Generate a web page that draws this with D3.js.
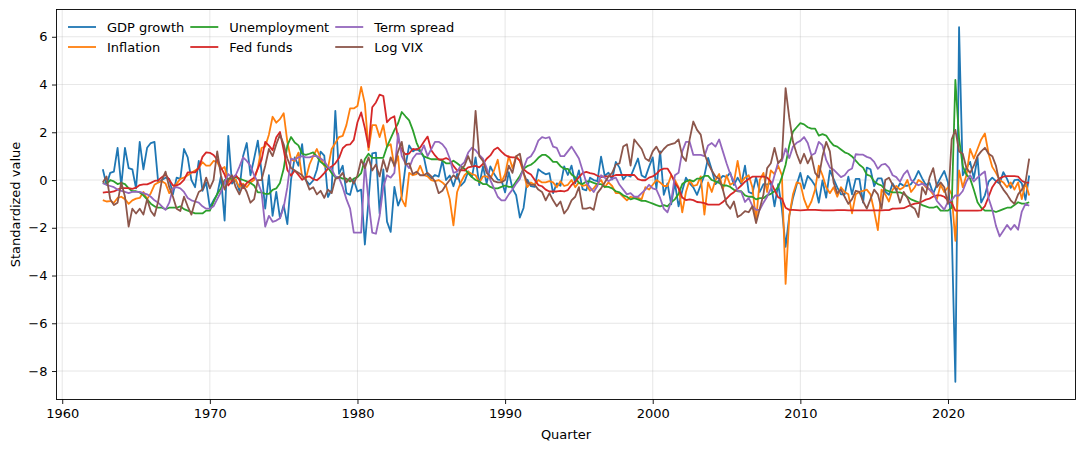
<!DOCTYPE html>
<html>
<head>
<meta charset="utf-8">
<script src="https://cdn.jsdelivr.net/npm/d3@7"></script>
<style>
  body { margin: 0; background: white; }
  svg { display: block; font-family: "DejaVu Sans", sans-serif; }
</style>
</head>
<body>
<div id="chart"></div>
<script>
// Quarterly macro series, standardized, 1962Q3 .. 2025Q2 (one row per year)
const firstQuarter = 1962.75; // date of the 1962Q3 observation

const gdpGrowth = [
  0.45, -0.2,
  0.3, 0.35, 1.35, -0.25,   1.35, 0.5, 0.45, -0.35,   1.6, 0.45, 1.35, 1.55,   1.6, -0.1, 0.0, 0.1,
  0.05, -0.6, 0.1, 0.05,    1.3, 0.95, 0.0, -0.3,     0.8, -0.45, -0.1, -1.15, -0.85, -0.6, 0.15, -1.7,
  1.85, -0.15, 0.02, -0.45, 1.0, 1.55, 0.2, 0.9,      1.65, 0.35, -1.2, 0.2,   -1.5, -0.5, -1.6, -1.05,
  -1.85, 0.02, 0.95, 0.6,   1.5, 0.0, -0.19, -0.02,   0.43, 1.19, 1.02, -0.71, -0.4, 2.9, 0.26, 0.6,
  -0.55, -0.62, 0.0, -0.48, -0.4, -2.7, -0.83, 1.12,  1.15, -1.4, 0.45, -1.74, -2.17, -0.29, -1.07, -0.67,
  0.57, 1.45, 1.2, 1.3,     1.2, 0.95, 0.21, 0.07,    0.21, 0.14, 0.81, 0.0,   0.19, -0.26, 0.26, -0.24,
  -0.07, 0.36, 0.12, 0.95,  -0.21, 0.57, -0.14, 0.57, 0.26, 0.02, 0.0, -0.52, 0.33, -0.36, -0.64, -1.57,
  -1.17, 0.02, -0.26, -0.29, 0.45, 0.33, 0.24, 0.29,  -0.55, -0.14, -0.24, 0.57, 0.21, 0.6, -0.14, 0.4,
  -0.38, -0.43, 0.1, 0.0,   -0.05, 0.98, 0.17, 0.31,  0.02, 0.76, 0.52, 0.02,  0.21, 0.14, 0.52, 0.9,
  0.19, 0.1, 0.55, 0.95,    -0.36, 1.2, -0.62, -0.14, -1.02, -0.12, -1.1, -0.45, 0.1, -0.14, -0.31, -0.62,
  -0.21, 0.19, 0.93, 0.43,  -0.17, 0.0, 0.17, 0.12,   0.31, -0.21, 0.1, -0.17, 0.6, -0.5, -0.57, 0.12,
  -0.5, -0.17, -0.19, -0.12, -1.1, -0.17, -1.21, -2.8, -1.5, -0.75, -0.2, 0.3, -0.36, 0.17, 0.0, -0.24,
  -0.95, -0.02, -0.74, 0.4, 0.05, -0.31, -0.6, -0.6,  0.14, -0.6, 0.05, 0.05,  -0.95, 0.52, 0.45, -0.26,
  0.07, 0.07, -0.48, -0.62, -0.14, -0.43, -0.14, -0.24, -0.24, -0.17, 0.05, 0.38, 0.07, -0.21, -0.12, -0.57,
  -0.19, 0.1, 0.38, -0.1,   -2.0, -8.45, 6.4, 0.2,    0.5, 0.76, 0.07, 0.95,   -0.95, -0.64, -0.07, 0.1,
  -0.05, -0.14, 0.33, 0.05, -0.33, 0.0, 0.02, -0.14,
  -0.83, 0.19
];

const inflation = [
  -0.84, -0.9,
  -0.88, -0.95, -0.75, -0.7, -0.8, -1.0, -0.85, -0.78, -0.75, -0.5, -0.8, -0.55, -0.2, -0.1, -0.05, -0.15,
  -0.55, -0.35, -0.15, 0.05, 0.1, 0.2, 0.3, 0.4,      0.5, 0.75, 0.6, 0.6,     0.8, 0.75, 0.45, 0.55,
  -0.1, 0.1, 0.0, -0.3,     -0.15, -0.3, -0.1, 0.0,   0.5, 1.34, 1.4, 1.9,     2.65, 2.4, 2.55, 2.8,
  1.6, 0.85, 0.8, 1.15,     0.15, 0.05, 0.65, 1.0,    1.3, 0.9, 0.6, 0.5,      1.3, 1.55, 1.8, 1.85,
  2.3, 3.0, 3.0, 3.1,       3.9, 3.2, 1.25, 2.3,      2.3, 1.8, 2.3, 1.4,      1.5, 0.55, 1.0, -0.8,
  -1.1, 0.3, 0.2, 0.25,     0.6, 0.2, 0.15, 0.0,      -0.05, 0.0, -0.1, -0.25, -0.8, -1.9, -0.5, -0.1,
  0.2, 0.35, 0.25, 0.2,     -0.1, 0.15, 0.15, 0.05,   0.4, 0.85, -0.1, 0.25,   1.0, 0.5, 1.0, 0.8,
  0.3, -0.3, -0.1, -0.2,    0.0, -0.1, -0.1, -0.05,   -0.1, -0.3, -0.05, -0.25, -0.2, 0.0, -0.3, -0.1,
  -0.25, -0.2, -0.45, -0.35, -0.15, 0.0, -0.3, -0.1,  -0.25, -0.55, -0.55, -0.7, -0.85, -0.7, -0.75, -0.75,
  -0.8, -0.3, -0.4, -0.2,   0.0, -0.1, -0.25, -0.25,  0.2, 0.0, -0.3, -1.35,   -0.5, 0.0, -0.25, -0.2,
  0.15, -1.45, -0.1, -0.5,  0.0, 0.25, -0.4, 0.2,     -0.2, -0.1, 0.8, -0.1,   0.1, 0.2, -0.3, -1.7,
  0.0, 0.3, -0.5, 0.4,      0.25, 0.6, 0.2, -4.35,    -1.5, -0.6, -0.1, -0.15, -0.8, -1.2, -0.9, -0.4,
  0.6, 0.2, -0.3, -0.55,    -0.3, -0.7, -0.3, -0.5,   -0.6, -1.4, -0.6, -0.5,  -0.45, -0.4, -0.6, -1.3,
  -2.1, -0.4, -0.6, -0.9,   -0.4, -0.25, -0.4, -0.3,  0.0, -0.5, -0.3, 0.0,    -0.1, -0.3, -0.4, -0.6,
  -0.8, -0.2, -0.5, -0.3,   -0.6, -2.55, 0.4, -0.3,   0.2, 1.3, 0.9, 1.3,      1.7, 1.95, 1.1, 0.55,
  0.3, 0.0, -0.1, -0.3,     -0.1, -0.4, -0.1, -0.8,
  -0.1, -0.65
];

const unemployment = [
  -0.12, -0.17,
  0.0, -0.06, -0.17, -0.12, -0.17, -0.35, -0.47, -0.47, -0.52, -0.64, -0.81, -0.99, -1.1, -1.16, -1.16, -1.22,
  -1.16, -1.16, -1.16, -1.1, -1.22, -1.28, -1.34, -1.4, -1.4, -1.4, -1.28, -1.28, -0.93, -0.58, -0.35, 0.0,
  0.06, 0.06, 0.12, 0.06,   0.0, -0.06, -0.12, -0.23, -0.52, -0.52, -0.58, -0.58, -0.41, -0.35, -0.12, 0.47,
  1.45, 1.8, 1.57, 1.45,    1.1, 1.05, 1.1, 1.16,     0.99, 0.76, 0.64, 0.52,  0.29, 0.12, 0.12, 0.06,
  0.06, -0.06, 0.06, 0.12,  0.29, 0.87, 1.1, 0.93,    0.93, 0.93, 0.93, 1.4,   1.74, 2.09, 2.38, 2.85,
  2.67, 2.5, 2.09, 1.57,    1.22, 0.99, 0.93, 0.87,   0.87, 0.87, 0.81, 0.7,   0.7, 0.81, 0.7, 0.58,
  0.47, 0.29, 0.12, 0.0,    -0.06, -0.17, -0.17, -0.29, -0.35, -0.35, -0.29, -0.23, -0.29, -0.29, -0.06, 0.17,
  0.47, 0.58, 0.64, 0.76,   0.93, 1.05, 1.05, 0.93,   0.76, 0.76, 0.58, 0.47,  0.47, 0.23, 0.12, -0.12,
  -0.17, -0.06, -0.06, -0.12, -0.17, -0.17, -0.29, -0.29, -0.35, -0.47, -0.52, -0.64, -0.7, -0.81, -0.76, -0.81,
  -0.87, -0.87, -0.93, -0.99, -1.05, -1.1, -1.05, -1.1, -0.93, -0.81, -0.58, -0.17, -0.06, 0.0, -0.06, 0.06,
  0.06, 0.17, 0.17, 0.0,    -0.06, -0.12, -0.23, -0.23, -0.29, -0.41, -0.47, -0.47, -0.64, -0.7, -0.7, -0.81,
  -0.76, -0.76, -0.64, -0.58, -0.47, -0.29, 0.12, 0.64, 1.45, 2.03, 2.21, 2.38,  2.33, 2.21, 2.15, 2.15,
  1.86, 1.92, 1.86, 1.63,   1.45, 1.4, 1.28, 1.16,    1.1, 0.99, 0.81, 0.64,   0.52, 0.23, 0.17, -0.06,
  -0.17, -0.23, -0.41, -0.47, -0.52, -0.52, -0.52, -0.58, -0.7, -0.81, -0.87, -0.93, -1.05, -1.1, -1.16, -1.16,
  -1.1, -1.28, -1.28, -1.28, -1.16, 4.19, 1.74, 0.58, 0.23, 0.06, -0.41, -0.93, -1.16, -1.28, -1.28, -1.28,
  -1.34, -1.28, -1.22, -1.16, -1.16, -1.05, -0.93, -0.99,
  -0.99, -0.93
];

const fedFunds = [
  -0.53, -0.51,
  -0.51, -0.48, -0.4, -0.34, -0.34, -0.34, -0.37, -0.32, -0.21, -0.18, -0.18, -0.12, -0.04, -0.01, 0.12, 0.23,
  0.01, -0.23, -0.23, -0.15, 0.01, 0.32, 0.32, 0.32,   0.51, 0.97, 1.16, 1.14,  1.05, 0.86, 0.53, 0.23,
  -0.23, -0.04, 0.21, 0.01, -0.34, -0.12, -0.01, 0.1,  0.48, 0.84, 1.6, 1.44,   1.25, 1.79, 2.01, 1.27,
  0.42, 0.18, 0.4, 0.21,    0.01, 0.12, 0.15, 0.04,    -0.01, 0.12, 0.29, 0.48, 0.56, 0.7, 0.92, 1.33,
  1.47, 1.49, 1.68, 2.42,   2.83, 2.18, 1.38, 3.05,    3.25, 3.58, 3.52, 2.42,  2.59, 2.67, 1.71, 1.25,
  1.08, 1.11, 1.3, 1.27,    1.36, 1.6, 1.82, 1.25,     1.03, 0.86, 0.86, 0.92,  0.84, 0.59, 0.4, 0.42,
  0.4, 0.53, 0.56, 0.59,    0.53, 0.67, 0.89, 1.03,    1.27, 1.36, 1.19, 1.05,  0.97, 0.95, 0.95, 0.81,
  0.45, 0.32, 0.23, 0.01,   -0.21, -0.26, -0.4, -0.48, -0.48, -0.48, -0.45, -0.48, -0.42, -0.21, -0.07, 0.12,
  0.29, 0.34, 0.29, 0.26,   0.18, 0.12, 0.15, 0.15,    0.15, 0.21, 0.21, 0.21,  0.21, 0.21, 0.21, 0.04,
  -0.01, -0.01, 0.1, 0.15,  0.26, 0.42, 0.48, 0.48,    0.23, -0.12, -0.34, -0.73, -0.84, -0.81, -0.84, -0.92,
  -0.94, -0.97, -1.03, -1.03, -1.03, -1.03, -0.92, -0.78, -0.62, -0.51, -0.37, -0.23, -0.07, 0.04, 0.14, 0.14,
  0.14, 0.14, 0.1, -0.07,   -0.42, -0.73, -0.78, -1.16, -1.25, -1.25, -1.26, -1.27, -1.26, -1.25, -1.25, -1.25,
  -1.26, -1.27, -1.27, -1.27, -1.27, -1.26, -1.26, -1.26, -1.27, -1.27, -1.27, -1.27, -1.27, -1.27, -1.27, -1.27,
  -1.27, -1.27, -1.26, -1.26, -1.2, -1.2, -1.19, -1.18, -1.11, -1.04, -0.99, -0.97, -0.9, -0.82, -0.78, -0.69,
  -0.64, -0.64, -0.7, -0.85, -0.96, -1.28, -1.28, -1.28, -1.28, -1.28, -1.28, -1.28, -1.27, -1.09, -0.7, -0.3,
  -0.07, 0.07, 0.14, 0.16,  0.16, 0.16, 0.14, -0.03,
  -0.11, -0.11
];

const termSpread = [
  -0.13, -0.2,
  -0.25, -0.3, -0.4, -0.45, -0.5, -0.55, -0.5, -0.5,  -0.5, -0.55, -0.6, -0.7,  -0.85, -0.95, -1.1, -1.25,
  -0.95, -0.35, -0.3, -0.35, -0.5, -0.75, -0.85, -0.9, -0.95, -1.1, -1.2, -1.2, -1.1, -0.8, -0.5, -0.1,
  0.25, 0.1, 0.2, 0.55,     0.95, 0.8, 0.6, 0.2,      -0.1, -0.5, -1.95, -1.5, -1.75, -1.7, -1.6, -1.15,
  -0.3, 0.9, 0.85, 0.95,    1.0, 0.95, 0.95, 1.0,     1.0, 0.9, 0.8, 0.55,     0.45, 0.15, 0.1, -0.3,
  -0.8, -1.2, -2.2, -2.2,   -2.2, 0.7, -0.9, -2.2,    -2.25, -1.5, -0.3, 0.2,  0.1, 0.3, 1.95, 1.0,
  0.7, 0.5, 0.9, 1.1,       1.1, 1.45, 1.0, 1.3,      1.6, 1.6, 1.5, 1.3,      0.9, 0.3, 0.35, 0.6,
  0.75, 1.15, 1.35, 1.25,   1.05, 0.9, 0.5, 0.0,      -0.35, -0.7, -0.85, -0.85, -0.6, -0.4, -0.15, 0.05,
  0.5, 0.9, 1.0, 1.25,      1.65, 1.8, 1.75, 1.8,     1.4, 1.35, 1.0, 1.0,     1.2, 1.4, 1.15, 0.9,
  0.4, -0.1, -0.3, -0.5,    -0.25, 0.2, 0.1, -0.05,   0.05, 0.1, -0.2, -0.4,   -0.6, -0.55, -0.7, -0.7,
  -0.55, -0.4, -0.2, -0.35, -0.4, -0.75, -1.2, -1.35, -0.9, 0.2, 0.3, 1.2,     1.6, 1.6, 1.05, 1.05,
  1.05, 1.0, 1.45, 1.55,    1.4, 1.7, 1.2, 0.7,       0.25, -0.05, -0.45, -0.5, -0.92, -0.75, -1.08, -1.25,
  -1.25, -0.95, -0.7, -0.36, 0.2, 0.76, 0.8, 1.32,    0.92, 1.4, 1.56, 1.64,   1.8, 1.55, 1.04, 1.12,
  1.6, 1.45, 0.84, 0.52,    0.44, 0.28, 0.12, 0.2,    0.4, 0.48, 1.08, 1.06,   1.06, 0.97, 0.92, 0.76,
  0.47, 0.64, 0.68, 0.52,   0.2, 0.12, -0.07, 0.24,   0.4, 0.0, -0.12, -0.22,  -0.15, -0.24, -0.4, -0.52,
  -0.88, -1.06, -1.24, -0.9, -0.84, -0.64, -0.65, -0.46, -0.06, 0.2, -0.06, 0.1, 0.24, 0.36, -0.76, -1.24,
  -1.92, -2.36, -2.12, -1.88, -2.08, -1.88, -2.08, -1.32,
  -1.0, -1.08
];

const logVix = [
  -0.1, 0.15,
  -0.8, -1.05, -0.95, -0.1, -0.7, -1.95, -1.2, -1.4,  -1.2, -1.45, -0.8, -1.3, -1.5, -0.9, 0.0, 0.35,
  -0.3, -0.7, -1.2, -1.3,   -0.7, -1.1, -1.45, -0.9,  -0.5, -0.4, 0.1, -0.35,  0.0, 1.2, 0.2, -0.4,
  0.0, 0.2, -0.3, -0.6,     -0.2, -0.5, -0.95, -0.8,  0.0, 0.0, 0.6, 1.3,      1.0, 1.5, 1.9, 1.5,
  0.9, 0.5, 0.4, 0.3,       0.2, 0.0, -0.4, -0.3,     -0.6, -0.45, -0.75, -0.4, -0.55, 0.05, 0.1, 0.3,
  -0.1, 0.1, -0.15, 0.2,    0.85, 0.5, 0.95, 0.4,     0.65, 0.15, 0.85, 0.35,  0.95, 0.6, 1.2, 1.6,
  0.65, 0.7, 0.25, 0.35,    0.2, 0.2, 0.3, 0.15,      -0.05, -0.55, -0.45, -0.2, 0.0, 0.2, 0.05, 0.45,
  0.6, 1.0, 0.6, 2.9,       1.0, 0.8, 0.3, 0.15,      -0.05, -0.1, -0.1, 0.0,  0.6, 0.3, 1.0, 1.1,
  0.3, -0.1, -0.2, -0.2,    -0.4, -0.5, -0.85, -0.55, -0.85, -1.1, -0.9, -1.4, -1.2, -0.85, -0.7, -0.3,
  -1.2, -1.2, -1.15, -1.25, -0.55, -0.35, -0.1, 0.15, 0.3, 0.65, 0.7, 1.4,     1.5, 0.6, 1.7, 1.5,
  1.3, 0.9, 0.8, 1.2,       1.4, 1.1, 1.3, 1.45,      1.5, 1.55, 1.7, 1.0,     0.8, 1.7, 2.45, 2.1,
  1.9, 1.1, 0.7, 0.4,       0.15, 0.05, -0.4, -1.0,   -1.2, -0.9, -1.55, -1.45, -1.3, -1.35, -1.1, -1.8,
  -1.2, -0.6, 0.5, 0.7,     1.35, 0.7, 0.9, 3.85,     2.6, 1.6, 1.1, 0.7,      1.1, 0.7, 1.0, 0.3,
  0.1, 1.0, 1.6, 1.2,       -0.1, -0.55, -0.4, -0.7,  -1.0, -0.8, -0.45, -0.5, -0.9, -1.2, -0.8, -0.4,
  -0.6, -1.2, 0.0, 0.1,     -0.2, -0.4, -0.95, -0.5,  -0.75, -1.1, -1.2, -1.55, -0.3, -0.6, 0.1, 0.5,
  -0.3, -0.1, -0.3, -1.0,   1.7, 2.1, 1.2, 1.1,       0.5, 0.3, 0.6, 1.0,      1.2, 1.35, 1.1, 1.0,
  0.6, -0.15, -0.4, -0.6,   -0.85, -1.0, -0.6, -0.4,
  -0.1, 0.9
];

const seriesNames = ["GDP growth", "Inflation", "Unemployment", "Fed funds", "Term spread", "Log VIX"];
const seriesValues = [gdpGrowth, inflation, unemployment, fedFunds, termSpread, logVix];
const seriesColors = ["#1f77b4", "#ff7f0e", "#2ca02c", "#d62728", "#9467bd", "#8c564b"];

const xTicks = [1960, 1970, 1980, 1990, 2000, 2010, 2020];
const yTicks = [-8, -6, -4, -2, 0, 2, 4, 6];

// Chart dimensions
const width = 1084;
const height = 451;
const margin = {top: 9.5, right: 8.5, bottom: 51.5, left: 56.5};
const fontSize = 13;

const quarters = gdpGrowth.map((d, i) => firstQuarter + i / 4);

// Build one table of {name, points}
const series = seriesNames.map((name, k) => ({
  name: name,
  color: seriesColors[k],
  points: seriesValues[k].map((v, i) => ({date: quarters[i], value: v}))
}));

// Scales with 5% padding like matplotlib
const xExt = d3.extent(quarters);
const xPad = (xExt[1] - xExt[0]) * 0.05;
const allValues = seriesValues.flat();
const yExt = d3.extent(allValues);
const yPad = (yExt[1] - yExt[0]) * 0.05;

const x = d3.scaleLinear()
    .domain([xExt[0] - xPad, xExt[1] + xPad])
    .range([margin.left, width - margin.right]);

const y = d3.scaleLinear()
    .domain([yExt[0] - yPad, yExt[1] + yPad])
    .range([height - margin.bottom, margin.top]);

const svg = d3.select("#chart").append("svg")
    .attr("width", width)
    .attr("height", height);

svg.append("rect")
    .attr("width", width)
    .attr("height", height)
    .attr("fill", "white");

// Grid lines
const grid = svg.append("g");
grid.selectAll(".gx").data(xTicks).join("line")
    .attr("x1", d => x(d)).attr("x2", d => x(d))
    .attr("y1", margin.top).attr("y2", height - margin.bottom)
    .attr("stroke", "#b0b0b0").attr("stroke-opacity", 0.3).attr("stroke-width", 1);
grid.selectAll(".gy").data(yTicks).join("line")
    .attr("x1", margin.left).attr("x2", width - margin.right)
    .attr("y1", d => y(d)).attr("y2", d => y(d))
    .attr("stroke", "#b0b0b0").attr("stroke-opacity", 0.3).attr("stroke-width", 1);

// Series lines
const line = d3.line()
    .x(d => x(d.date))
    .y(d => y(d.value));

svg.append("g")
    .selectAll("path")
    .data(series)
    .join("path")
    .attr("fill", "none")
    .attr("stroke", d => d.color)
    .attr("stroke-width", 1.8)
    .attr("stroke-linejoin", "round")
    .attr("d", d => line(d.points));

// Axes
const xAxis = svg.append("g")
    .attr("transform", `translate(0,${height - margin.bottom})`)
    .call(d3.axisBottom(x).tickValues(xTicks).tickFormat(d3.format("d")).tickSize(4.5).tickPadding(4.5).tickSizeOuter(0));

const yAxis = svg.append("g")
    .attr("transform", `translate(${margin.left},0)`)
    .call(d3.axisLeft(y).tickValues(yTicks).tickFormat(d => d < 0 ? "\u2212" + Math.abs(d) : d).tickSize(4.5).tickPadding(4.5).tickSizeOuter(0));

[xAxis, yAxis].forEach(a => {
  a.selectAll("text").attr("font-size", fontSize).attr("font-family", "DejaVu Sans").attr("fill", "black");
  a.selectAll("line").attr("stroke", "black").attr("stroke-width", 0.9);
  a.select(".domain").remove();
});

// Frame
svg.append("rect")
    .attr("x", margin.left).attr("y", margin.top)
    .attr("width", width - margin.left - margin.right)
    .attr("height", height - margin.top - margin.bottom)
    .attr("fill", "none").attr("stroke", "black").attr("stroke-width", 0.9);

// Axis labels
svg.append("text")
    .attr("x", (margin.left + width - margin.right) / 2)
    .attr("y", 439)
    .attr("text-anchor", "middle")
    .attr("font-size", fontSize)
    .text("Quarter");

svg.append("text")
    .attr("transform", `translate(20,${(margin.top + height - margin.bottom) / 2}) rotate(-90)`)
    .attr("text-anchor", "middle")
    .attr("font-size", fontSize)
    .text("Standardized value");

// Legend: 3 columns, 2 rows, no frame; column x follows the widest label
const legendRows = [27, 47];
const legend = svg.append("g");
let colX = 68;
for (let col = 0; col < 3; col++) {
  let maxW = 0;
  for (let row = 0; row < 2; row++) {
    const s = series[col * 2 + row];
    const ly = legendRows[row];
    legend.append("line")
        .attr("x1", colX).attr("x2", colX + 28)
        .attr("y1", ly).attr("y2", ly)
        .attr("stroke", s.color).attr("stroke-width", 1.8);
    const t = legend.append("text")
        .attr("x", colX + 39)
        .attr("y", ly)
        .attr("dy", "0.35em")
        .attr("font-size", fontSize)
        .text(s.name);
    maxW = Math.max(maxW, t.node().getComputedTextLength());
  }
  colX = colX + 39 + maxW + 6;
}
</script>
</body>
</html>
